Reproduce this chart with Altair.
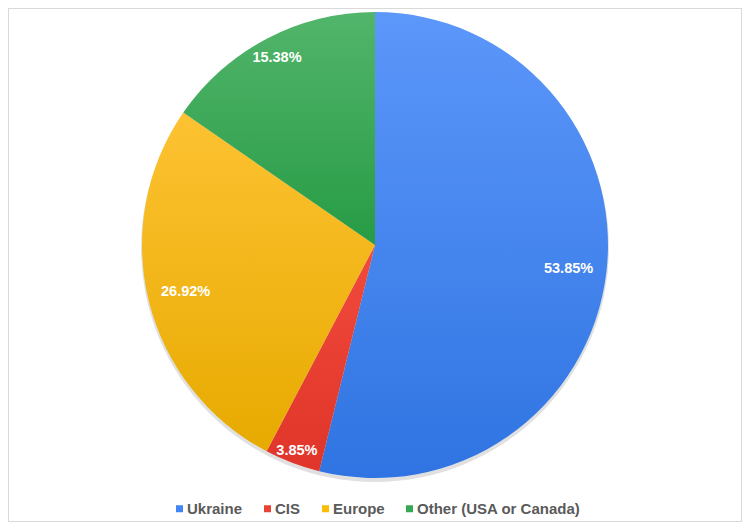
import math
import altair as alt
import pandas as pd

# ---- data ----
categories = ["Ukraine", "CIS", "Europe", "Other (USA or Canada)"]
values = [53.85, 3.85, 26.92, 15.38]

# ---- style ----
base_colors = ["#4285F4", "#EA4335", "#FBBC04", "#34A853"]
grad_top = ["#5C97FA", "#F14A3C", "#FDC232", "#52B56B"]
grad_bottom = ["#2F74E2", "#E0352A", "#E7AA00", "#279B45"]
FONT = "Liberation Sans"

W, H = 734, 514
CX, CY = 367, 237
R = 233

df = pd.DataFrame({"category": categories, "value": values,
                   "idx": list(range(len(categories)))})

base = (
    alt.Chart(df)
    .transform_joinaggregate(total="sum(value)")
    .transform_window(cum="sum(value)", sort=[alt.SortField("idx")], frame=[None, 0])
    .transform_calculate(
        t1="datum.cum / datum.total * 2 * PI",
        t0="(datum.cum - datum.value) / datum.total * 2 * PI",
    )
    .transform_calculate(
        mid="(datum.t0 + datum.t1) / 2",
        lr="datum.value < 5 ? 220 : (datum.value < 20 ? 211 : 195)",
        label="format(datum.value, '.2f') + '%'",
    )
)

# hidden layer carrying the legend (covered by the pie)
legend_layer = base.mark_square(size=1, opacity=1).encode(
    x=alt.value(CX),
    y=alt.value(CY),
    color=alt.Color(
        "category:N",
        scale=alt.Scale(domain=categories, range=base_colors),
        legend=alt.Legend(
            title=None,
            orient="none",
            direction="horizontal",
            legendX=164,
            legendY=493,
            symbolType="square",
            symbolSize=49,
            symbolStrokeWidth=0,
            symbolOpacity=1,
            labelFont=FONT,
            labelFontSize=15,
            labelFontWeight="bold",
            labelColor="#5a5a5a",
            labelOffset=0,
            labelLimit=400,
            columnPadding=17,
            padding=0,
        ),
    ),
)

shadow = (
    alt.Chart(alt.Data(values=[{"a": 0}]))
    .mark_arc(radius=R + 1, theta=0, theta2=2 * math.pi, color="#000000", opacity=0.12)
    .encode(x=alt.value(CX), y=alt.value(CY + 3))
)

arcs = []
for cat, top, bot in zip(categories, grad_top, grad_bottom):
    grad = alt.Gradient(
        gradient="linear",
        stops=[alt.GradientStop(color=top, offset=0), alt.GradientStop(color=bot, offset=1)],
        x1=0, x2=0, y1=0, y2=1,
    )
    arcs.append(
        base.transform_filter(alt.datum.category == cat)
        .mark_arc(radius=R, fill=grad)
        .encode(
            theta=alt.Theta("t0:Q", scale=None),
            theta2="t1:Q",
            x=alt.value(CX),
            y=alt.value(CY),
        )
    )

text = base.mark_text(font=FONT, fontSize=14.5, fontWeight="bold", color="white").encode(
    theta=alt.Theta("mid:Q", scale=None),
    radius=alt.Radius("lr:Q", scale=None),
    text="label:N",
    x=alt.value(CX),
    y=alt.value(CY),
)

chart = (
    alt.layer(legend_layer, shadow, *arcs, text)
    .properties(width=W, height=H, autosize=alt.AutoSizeParams(type="none"), padding=0,
                background="white")
    .configure_view(stroke="#d9d9d9", strokeWidth=2)
)

chart.save("out.html", embed_options={"renderer": "svg", "actions": False})
